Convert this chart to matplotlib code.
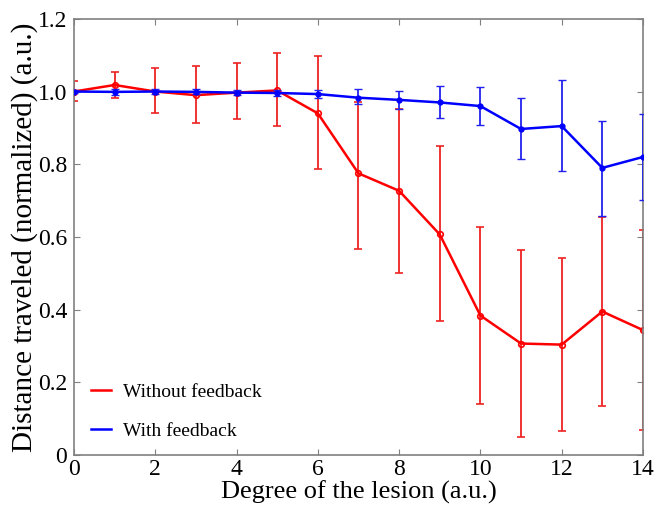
import matplotlib.pyplot as plt
import numpy as np

# Degree of the lesion
x = np.arange(0, 15)

# Without feedback (red)
red_mean = [1.0, 1.018, 1.0, 0.99, 0.997, 1.003, 0.94, 0.775, 0.727, 0.607,
            0.384, 0.307, 0.304, 0.395, 0.344]
red_low = [0.975, 0.982, 0.942, 0.913, 0.925, 0.905, 0.787, 0.567, 0.502, 0.368,
           0.14, 0.05, 0.067, 0.135, 0.07]
red_high = [1.03, 1.055, 1.065, 1.07, 1.078, 1.105, 1.097, 0.972, 0.953, 0.849,
            0.628, 0.565, 0.543, 0.655, 0.62]

# With feedback (blue)
blue_mean = [1.0, 0.999, 1.0, 0.999, 0.997, 0.996, 0.993, 0.983, 0.977, 0.970,
             0.960, 0.897, 0.905, 0.790, 0.820]
blue_low = [0.995, 0.99, 0.993, 0.992, 0.99, 0.989, 0.982, 0.965, 0.952, 0.927,
            0.908, 0.815, 0.781, 0.658, 0.702]
blue_high = [1.005, 1.008, 1.007, 1.006, 1.004, 1.003, 1.004, 1.008, 1.002, 1.014,
             1.012, 0.981, 1.033, 0.92, 0.938]

plt.rcParams['font.family'] = ['Liberation Serif', 'DejaVu Serif']

fig = plt.figure(figsize=(6.57, 5.08), dpi=100)
ax = fig.add_axes([0.1126, 0.104, 0.866, 0.859])

red_err = [np.array(red_mean) - np.array(red_low), np.array(red_high) - np.array(red_mean)]
blue_err = [np.array(blue_mean) - np.array(blue_low), np.array(blue_high) - np.array(blue_mean)]

ax.errorbar(x, red_mean, yerr=red_err, color='#ff0000', ecolor='#ee2222', lw=1.8,
            elinewidth=1.3, capsize=3, marker='o', ms=4, mfc='none', mew=1.2,
            label='Without feedback', zorder=2)
ax.errorbar(x, blue_mean, yerr=blue_err, color='#0000ff', ecolor='#2222ee', lw=1.8,
            elinewidth=1.3, capsize=3, marker='o', ms=3.5, mew=1,
            label='With feedback', zorder=3)

ax.set_xlim(0, 14)
ax.set_ylim(0, 1.2)
ax.set_xticks(range(0, 15, 2))
ax.set_yticks([0, 0.2, 0.4, 0.6, 0.8, 1.0, 1.2])
ax.set_yticklabels(['0', '0.2', '0.4', '0.6', '0.8', '1.0', '1.2'])

for s in ax.spines.values():
    s.set_color('#808080')
    s.set_linewidth(1.2)
ax.tick_params(direction='in', top=True, right=True, length=4, color='#808080',
               labelsize=17, pad=2)
ax.tick_params(axis='x', pad=3)
ax.tick_params(axis='y', pad=5)

ax.set_xlabel('Degree of the lesion (a.u.)', fontsize=19, labelpad=0)
ax.set_ylabel('Distance traveled (normalized) (a.u.)', fontsize=21, labelpad=0)

# legend with plain lines
handles = [plt.Line2D([], [], color='#ff0000', lw=1.8),
           plt.Line2D([], [], color='#0000ff', lw=1.8)]
ax.legend(handles, ['Without feedback', 'With feedback'], loc='lower left',
          bbox_to_anchor=(0.0, -0.005), frameon=False, fontsize=14,
          handlelength=1.0, labelspacing=1.1, handletextpad=0.6)

fig.savefig('out.png', dpi=100)
